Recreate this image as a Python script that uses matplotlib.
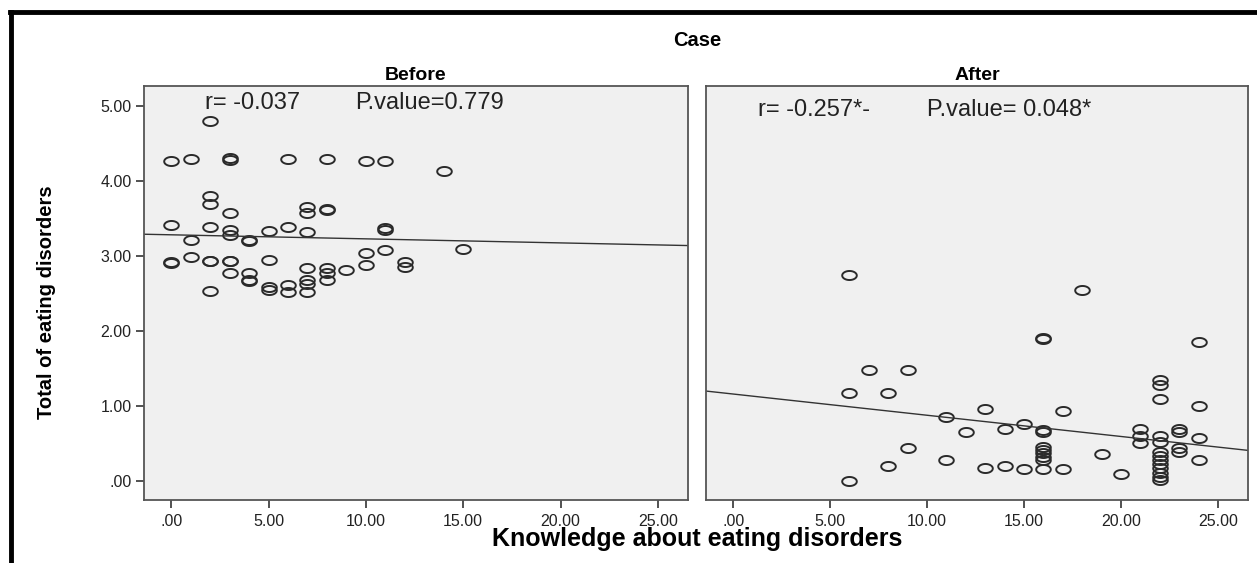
import numpy as np
import matplotlib
matplotlib.use("Agg")
import matplotlib.pyplot as plt
from matplotlib.path import Path
from matplotlib.lines import Line2D

# ---------------- data ----------------
before_x = [2, 0, 1, 3, 3, 6, 8, 10, 11, 14,
            2, 2, 3, 7, 7, 8, 8, 0, 2, 3, 3, 4, 4, 5, 6, 7, 11, 11, 1,
            0, 0, 1, 2, 2, 3, 3, 3, 4, 4, 4, 5, 5, 5, 6, 6, 7, 7, 7, 7,
            8, 8, 8, 9, 10, 10, 11, 2, 12, 12, 15]
before_y = [4.80, 4.27, 4.30, 4.28, 4.31, 4.29, 4.29, 4.27, 4.27, 4.14,
            3.80, 3.70, 3.57, 3.66, 3.58, 3.62, 3.63, 3.42, 3.39, 3.35, 3.28, 3.20, 3.22, 3.34, 3.39, 3.32, 3.35, 3.37, 3.22,
            2.91, 2.92, 2.99, 2.93, 2.94, 2.93, 2.94, 2.77, 2.77, 2.67, 2.68, 2.95, 2.59, 2.55, 2.61, 2.52, 2.68, 2.63, 2.52, 2.84,
            2.84, 2.77, 2.68, 2.82, 3.04, 2.88, 3.08, 2.53, 2.92, 2.85, 3.10]

after_x = [6, 7, 9, 6, 8, 11, 12, 9, 11, 8, 6,
           13, 14, 13, 14, 15, 15,
           16, 16, 16, 16, 16, 16, 16, 16, 16, 16,
           17, 17, 18, 19, 20,
           21, 21, 21,
           22, 22, 22, 22, 22, 22, 22, 22, 22, 22, 22, 22, 22,
           23, 23, 23, 23,
           24, 24, 24, 24]
after_y = [2.75, 1.48, 1.48, 1.18, 1.18, 0.85, 0.65, 0.44, 0.28, 0.20, 0.00,
           0.96, 0.70, 0.18, 0.20, 0.76, 0.16,
           1.90, 1.91, 0.68, 0.65, 0.46, 0.41, 0.37, 0.32, 0.28, 0.16,
           0.93, 0.16, 2.55, 0.36, 0.09,
           0.70, 0.60, 0.51,
           1.35, 1.28, 1.10, 0.60, 0.52, 0.39, 0.33, 0.28, 0.23, 0.17, 0.11, 0.06, 0.01,
           0.69, 0.65, 0.44, 0.39,
           1.85, 1.00, 0.58, 0.28]

# fit lines (intercept, slope)
before_fit = (3.283, -0.0054)
after_fit = (1.160, -0.0283)

panel_titles = ["Before", "After"]
stat_r = ["r= -0.037", "r= -0.257*-"]
stat_p = ["P.value=0.779", "P.value= 0.048*"]
x_ticks = [0, 5, 10, 15, 20, 25]
x_ticklabels = [".00", "5.00", "10.00", "15.00", "20.00", "25.00"]
y_ticks = [0, 1, 2, 3, 4, 5]
y_ticklabels = [".00", "1.00", "2.00", "3.00", "4.00", "5.00"]

# ---------------- style ----------------
W, H = 1257, 563
fig = plt.figure(figsize=(W / 100, H / 100), dpi=100)
fig.patch.set_facecolor("white")

base_font = ["Liberation Sans", "DejaVu Sans"]

t = np.linspace(0, 2 * np.pi, 64)
ell = Path(np.column_stack([np.cos(t), 0.62 * np.sin(t)]), closed=True)

def fx(px):
    return px / W

def fy(py):
    return 1 - py / H

bottom, top = 500, 86
panels = [(144, 688), (706, 1248)]
xlim = (-1.4, 26.55)
ylim = (-0.253, 5.267)

datasets = [(before_x, before_y, before_fit), (after_x, after_y, after_fit)]
stat_pos = [((0.112, 0.388), 0.958), ((0.096, 0.408), 0.942)]

for i, ((l, r), (xs, ys, fit)) in enumerate(zip(panels, datasets)):
    ax = fig.add_axes([fx(l), fy(bottom), (r - l) / W, (bottom - top) / H])
    ax.set_facecolor("#f0f0f0")
    ax.set_xlim(*xlim)
    ax.set_ylim(*ylim)
    for s in ax.spines.values():
        s.set_color("#555555")
        s.set_linewidth(1.3)
    ax.plot(xs, ys, linestyle="none", marker=ell, markersize=10.5,
            markerfacecolor="none", markeredgecolor="#2a2a2a", markeredgewidth=1.4)
    ax.axline((0, fit[0]), slope=fit[1], color="#333333", lw=1.0)
    ax.set_xticks(x_ticks)
    ax.set_xticklabels(x_ticklabels, fontfamily=base_font, fontsize=11.5, color="#222222")
    ax.tick_params(axis="x", direction="out", length=6, width=1.2, color="#333333", pad=4)
    if i == 0:
        ax.set_yticks(y_ticks)
        ax.set_yticklabels(y_ticklabels, fontfamily=base_font, fontsize=11.5, color="#222222")
        ax.tick_params(axis="y", direction="out", length=6, width=1.2, color="#333333", pad=3)
    else:
        ax.set_yticks([])
    ax.set_title(panel_titles[i], fontfamily=base_font, fontweight="bold", fontsize=14, pad=4)
    (xr, xp), yy = stat_pos[i]
    ax.text(xr, yy, stat_r[i], transform=ax.transAxes, fontfamily=base_font, fontsize=17,
            va="center", ha="left", color="#222222")
    ax.text(xp, yy, stat_p[i], transform=ax.transAxes, fontfamily=base_font, fontsize=17,
            va="center", ha="left", color="#222222")

fig.text(fx(697), fy(40), "Case", ha="center", va="center", fontfamily=base_font,
         fontweight="bold", fontsize=14.5)
fig.text(fx(697), fy(539), "Knowledge about eating disorders", ha="center", va="center",
         fontfamily=base_font, fontweight="bold", fontsize=18)
fig.text(fx(47), fy(302), "Total of eating disorders", ha="center", va="center",
         rotation=90, fontfamily=base_font, fontweight="bold", fontsize=14.5)

# thick black border at top and left, as in the source image
fig.add_artist(Line2D([fx(10), 1.0], [fy(12), fy(12)], color="black", lw=3.5,
                      transform=fig.transFigure))
fig.add_artist(Line2D([fx(11), fx(11)], [fy(12), 0.0], color="black", lw=3.5,
                      transform=fig.transFigure))

fig.savefig("out.png", dpi=100)
